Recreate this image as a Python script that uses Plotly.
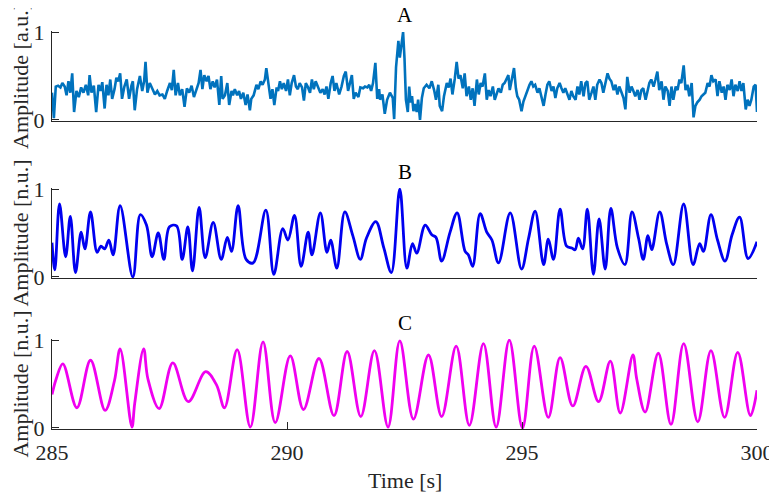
import plotly.graph_objects as go
from plotly.subplots import make_subplots

# ---------------- data ----------------
A_t = [285.00,285.04,285.08,285.13,285.18,285.22,285.27,285.31,285.35,285.39,285.43,285.47,285.52,285.57,285.62,285.67,
       285.72,285.77,285.80,285.84,285.89,285.94,285.99,286.03,286.07,286.12,286.16,286.20,286.24,286.28,286.33,286.37,
       286.41,286.45,286.49,286.54,286.59,286.64,286.69,286.72,286.76,286.81,286.87,286.92,286.96,286.99,287.03,287.08,
       287.14,287.19,287.24,287.29,287.35,287.40,287.45,287.51,287.55,287.59,287.63,287.68,287.72,287.77,287.82,287.87,
       287.92,287.97,288.02,288.07,288.12,288.16,288.20,288.24,288.29,288.33,288.37,288.42,288.46,288.51,288.56,288.60,
       288.63,288.68,288.73,288.77,288.82,288.85,288.89,288.94,288.98,289.02,289.07,289.12,289.16,289.21,289.24,289.29,
       289.35,289.39,289.44,289.48,289.53,289.56,289.61,289.65,289.69,289.73,289.78,289.81,289.85,289.89,289.93,289.98,
       290.02,290.06,290.10,290.15,290.19,290.23,290.27,290.32,290.36,290.40,290.44,290.49,290.53,290.57,290.61,290.66,
       290.71,290.76,290.80,290.84,290.88,290.93,290.97,291.01,291.05,291.11,291.16,291.21,291.25,291.30,291.34,291.38,
       291.42,291.46,291.52,291.56,291.62,291.66,291.71,291.75,291.79,291.83,291.88,291.92,291.96,
       291.98,292.03,292.08,292.13,292.19,292.25,292.28,292.32,292.37,292.40,292.44,292.47,292.50,292.53,292.57,292.60,
       292.63,292.66,292.69,292.72,292.76,292.79,292.83,292.87,292.91,292.97,293.03,293.08,293.13,293.17,293.22,293.25,
       293.30,293.34,293.40,293.44,293.48,293.52,293.57,293.61,293.65,293.69,293.74,293.78,293.82,293.87,293.91,293.95,
       293.99,294.04,294.08,294.12,294.16,294.21,294.25,294.29,294.33,294.38,294.42,294.46,294.50,294.55,294.59,294.63,
       294.67,294.71,294.74,294.79,294.83,294.87,294.90,294.94,294.99,295.03,295.07,295.11,295.16,295.20,295.24,295.28,
       295.33,295.37,295.41,295.46,295.50,295.54,295.58,295.63,295.67,295.71,295.75,295.80,295.84,295.88,295.92,295.97,
       296.01,296.05,296.09,296.14,296.18,296.22,296.26,296.31,296.35,296.39,296.43,296.48,296.52,296.56,296.60,296.65,
       296.69,296.73,296.77,296.82,296.86,296.90,296.95,296.99,297.03,297.07,297.12,297.16,297.20,297.24,297.29,297.33,
       297.37,297.41,297.46,297.50,297.54,297.58,297.63,297.67,297.71,297.75,297.80,297.84,297.88,297.92,297.97,298.01,
       298.05,298.10,298.14,298.18,298.22,298.27,298.31,298.35,298.39,298.44,298.48,298.52,298.56,298.61,298.65,298.69,
       298.73,298.78,298.82,298.86,298.90,298.95,298.99,299.03,299.07,299.12,299.16,299.20,299.25,299.29,299.33,299.37,
       299.42,299.46,299.50,299.54,299.59,299.63,299.67,299.71,299.76,299.80,299.84,299.88,299.93,299.97,300.00]
A_v = [0.31,0.02,0.38,0.39,0.37,0.42,0.38,0.28,0.44,0.31,0.53,0.09,0.33,0.26,0.37,0.31,
       0.40,0.28,0.51,0.31,0.39,0.09,0.40,0.33,0.43,0.13,0.40,0.28,0.46,0.24,0.35,0.48,
       0.44,0.53,0.24,0.38,0.46,0.24,0.39,0.44,0.11,0.35,0.50,0.33,0.44,0.66,0.31,0.42,
       0.35,0.29,0.33,0.28,0.29,0.24,0.33,0.42,0.34,0.57,0.28,0.42,0.28,0.35,0.15,0.36,
       0.31,0.39,0.26,0.35,0.42,0.57,0.35,0.51,0.44,0.50,0.35,0.44,0.37,0.46,0.17,0.50,
       0.24,0.28,0.42,0.17,0.33,0.28,0.35,0.28,0.33,0.24,0.31,0.17,0.29,0.11,0.24,0.28,
       0.40,0.35,0.44,0.40,0.46,0.59,0.38,0.24,0.35,0.17,0.37,0.33,0.44,0.35,0.42,0.33,
       0.46,0.28,0.42,0.51,0.38,0.35,0.42,0.37,0.22,0.42,0.38,0.31,0.46,0.35,0.44,0.38,
       0.31,0.35,0.29,0.38,0.24,0.42,0.50,0.33,0.42,0.29,0.38,0.50,0.55,0.33,0.42,0.51,
       0.24,0.31,0.26,0.37,0.36,0.38,0.37,0.40,0.33,0.42,0.65,0.24,0.35,
       0.23,0.29,0.07,0.23,0.31,0.25,0.01,0.60,0.90,0.71,0.86,1.00,0.70,0.23,0.09,0.38,
       0.20,0.27,0.10,0.18,0.09,0.23,0.00,0.25,0.36,0.40,0.36,0.44,0.34,0.23,0.40,0.16,
       0.10,0.27,0.42,0.37,0.47,0.29,0.47,0.66,0.47,0.51,0.36,0.53,0.27,0.38,0.23,0.36,
       0.16,0.46,0.29,0.42,0.38,0.53,0.23,0.34,0.27,0.38,0.23,0.29,0.36,0.31,0.40,0.42,
       0.46,0.51,0.34,0.49,0.59,0.36,0.27,0.23,0.10,0.21,0.27,0.34,0.40,0.44,0.38,0.40,
       0.31,0.36,0.27,0.16,0.29,0.40,0.44,0.33,0.38,0.25,0.36,0.42,0.36,0.31,0.36,0.29,
       0.23,0.33,0.27,0.23,0.38,0.29,0.44,0.27,0.42,0.44,0.23,0.31,0.38,0.23,0.40,0.46,
       0.42,0.31,0.40,0.53,0.47,0.44,0.34,0.40,0.29,0.38,0.31,0.25,0.12,0.49,0.31,0.38,
       0.33,0.27,0.34,0.23,0.34,0.36,0.23,0.33,0.42,0.46,0.38,0.46,0.55,0.34,0.44,0.23,
       0.38,0.33,0.16,0.38,0.23,0.38,0.34,0.46,0.42,0.62,0.34,0.40,0.27,0.42,0.03,0.16,
       0.20,0.23,0.27,0.29,0.31,0.42,0.38,0.51,0.44,0.46,0.27,0.44,0.31,0.38,0.23,0.40,
       0.34,0.46,0.27,0.40,0.33,0.44,0.33,0.42,0.12,0.23,0.16,0.23,0.38,0.40,0.09]

B_t = [285.00,285.06,285.16,285.29,285.39,285.50,285.62,285.70,285.82,285.96,286.04,286.12,286.21,286.30,286.45,286.72,
       286.88,287.01,287.13,287.26,287.38,287.50,287.65,287.77,287.89,287.99,288.13,288.26,288.43,288.60,288.73,288.82,
       288.96,289.13,289.28,289.55,289.72,289.91,290.02,290.16,290.30,290.45,290.53,290.71,290.85,290.93,291.06,291.23,
       291.40,291.56,291.69,291.89,292.06,292.22,
       292.40,292.55,292.67,292.76,292.94,293.08,293.17,293.29,293.47,293.62,293.79,293.86,293.95,294.11,294.25,294.36,
       294.50,294.75,294.99,295.14,295.28,295.46,295.56,295.67,295.81,295.95,296.06,296.13,296.20,296.29,296.39,296.52,
       296.64,296.77,296.89,297.03,297.19,297.34,297.48,297.58,297.68,297.76,297.93,298.08,298.22,298.44,298.64,298.78,
       298.86,299.02,299.16,299.32,299.47,299.63,299.81,300.00]
B_v = [0.39,0.08,0.83,0.23,0.69,0.05,0.51,0.32,0.74,0.28,0.35,0.32,0.42,0.25,0.81,0.00,
       0.71,0.59,0.23,0.50,0.20,0.57,0.58,0.20,0.57,0.07,0.79,0.22,0.62,0.20,0.45,0.29,
       0.81,0.20,0.16,0.76,0.03,0.55,0.42,0.70,0.12,0.51,0.25,0.73,0.28,0.42,0.10,0.74,
       0.47,0.20,0.44,0.63,0.33,0.05,
       1.00,0.10,0.38,0.27,0.59,0.48,0.45,0.18,0.51,0.73,0.29,0.25,0.12,0.72,0.51,0.42,
       0.16,0.73,0.09,0.44,0.75,0.14,0.43,0.20,0.77,0.35,0.33,0.31,0.44,0.32,0.77,0.03,
       0.66,0.09,0.78,0.33,0.14,0.74,0.44,0.20,0.47,0.31,0.74,0.37,0.14,0.83,0.14,0.38,
       0.29,0.71,0.42,0.18,0.48,0.68,0.21,0.40]

C_t = [285.00,285.09,285.23,285.53,285.82,286.13,286.33,286.45,286.70,286.76,286.95,287.04,287.28,287.57,287.90,288.27,
       288.50,288.67,288.94,289.22,289.49,289.75,290.07,290.35,290.68,291.00,291.28,291.57,291.86,292.15,
       292.40,292.69,293.01,293.29,293.60,293.88,294.18,294.45,294.73,295.01,295.26,295.56,295.81,296.08,296.36,296.63,
       296.88,297.09,297.36,297.44,297.62,297.90,298.17,298.44,298.74,299.02,299.31,299.59,299.86,300.00]
C_v = [0.38,0.56,0.73,0.23,0.77,0.20,0.54,0.90,0.01,0.28,0.90,0.56,0.22,0.74,0.30,0.64,
       0.49,0.23,0.89,0.01,0.98,0.06,0.82,0.21,0.79,0.14,0.87,0.13,0.88,0.01,
       0.99,0.10,0.83,0.13,0.93,0.03,0.96,0.01,1.00,0.00,0.93,0.12,0.80,0.25,0.70,0.30,
       0.76,0.17,0.83,0.56,0.18,0.85,0.04,0.96,0.07,0.88,0.12,0.86,0.14,0.43]

panel_titles = ["A", "B", "C"]
y_titles = ["Amplitude [a.u.]", "Amplitude [n.u.]", "Amplitude [n.u.]"]
x_title = "Time [s]"
x_tickvals = [285, 290, 295, 300]
y_tickvals = [0, 1]
colors = ["#0072BD", "#0000F0", "#F000F0"]

FONT = "Liberation Serif"
AX = "#262626"
# the page places the figure 8 px in from the top-left corner
W, H = 769, 488
fig = make_subplots(rows=3, cols=1)

fig.add_trace(go.Scatter(x=A_t, y=A_v, mode="lines",
                         line=dict(color=colors[0], width=2.6)), row=1, col=1)
fig.add_trace(go.Scatter(x=B_t, y=B_v, mode="lines",
                         line=dict(color=colors[1], width=2.8, shape="spline", smoothing=1.0)), row=2, col=1)
fig.add_trace(go.Scatter(x=C_t, y=C_v, mode="lines",
                         line=dict(color=colors[2], width=2.8, shape="spline", smoothing=1.0)), row=3, col=1)

domains = [(23, 113), (180, 270), (331, 421)]
for i, (top, bot) in enumerate(domains):
    r = i + 1
    fig.update_yaxes(row=r, col=1, domain=[1 - bot / H, 1 - top / H], automargin=False,
                     range=[-0.012, 1.012], tickvals=y_tickvals, ticktext=["0", "1"],
                     ticks="inside", ticklen=7, tickcolor=AX, tickwidth=1,
                     showline=True, linecolor=AX, linewidth=1,
                     showgrid=False, zeroline=False, ticklabelstandoff=2,
                     tickfont=dict(family=FONT, size=22, color=AX),
                     title=dict(text=y_titles[i], standoff=12,
                                font=dict(family=FONT, size=22, color=AX)))
    last = (r == 3)
    fig.update_xaxes(row=r, col=1, range=[285, 300], automargin=False,
                     showline=True, linecolor=AX, linewidth=1,
                     showgrid=False, zeroline=False,
                     tickvals=x_tickvals if last else [],
                     showticklabels=last,
                     ticks="inside" if last else "", ticklen=7, tickcolor=AX,
                     ticklabelstandoff=4 if last else 0,
                     tickfont=dict(family=FONT, size=22, color=AX))
    fig.add_annotation(x=0.5, xref="paper", y=1 - (top - 16) / H, yref="paper",
                       text=panel_titles[i], showarrow=False, yanchor="middle",
                       font=dict(family=FONT, size=21, color="#000000"))

fig.add_annotation(x=0.5, xref="paper", y=1 - 472 / H, yref="paper",
                   text=x_title, showarrow=False, yanchor="middle",
                   font=dict(family=FONT, size=22, color=AX))

fig.update_layout(width=W, height=H, showlegend=False,
                  margin=dict(l=44, r=20, t=0, b=0, autoexpand=False),
                  paper_bgcolor="white", plot_bgcolor="white")
fig.write_html("out.html")
